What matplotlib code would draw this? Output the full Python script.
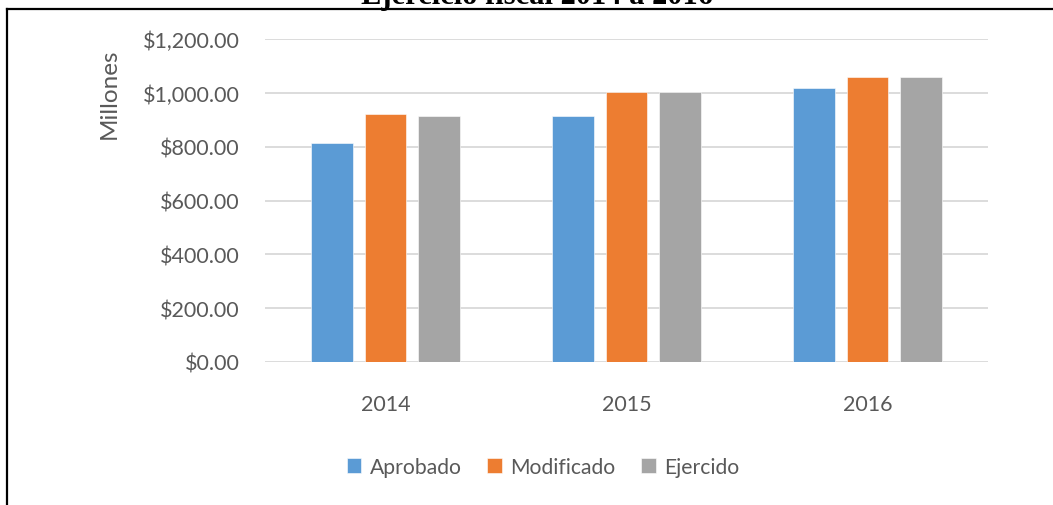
import numpy as np
import matplotlib.pyplot as plt
from matplotlib.lines import Line2D

years = ["2014", "2015", "2016"]
series = ["Aprobado", "Modificado", "Ejercido"]
aprobado = [812, 914, 1019]
modificado = [921, 1002, 1058]
ejercido = [914, 1002, 1058]
yticks = [0, 200, 400, 600, 800, 1000, 1200]

colores = ["#5B9BD5", "#ED7D31", "#A5A5A5"]
gris = "#595959"

plt.rcParams['font.family'] = ['Lato', 'DejaVu Sans']

fig = plt.figure(figsize=(10.53, 5.06), dpi=100)
ax = fig.add_axes([265/1053, 1-363/506, (988-265)/1053, (363-40)/506])

x = np.arange(len(years))
ancho = 0.174
desp = 0.222
for i, (vals, nombre) in enumerate(zip([aprobado, modificado, ejercido], series)):
    ax.bar(x + (i-1)*desp, vals, ancho, color=colores[i], label=nombre,
           edgecolor='white', linewidth=0.4, zorder=3)

ax.set_xlim(-0.5, 2.5)
ax.set_ylim(0, 1200)
ax.set_yticks(yticks)
ax.set_yticklabels(["${:,.2f}".format(v) for v in yticks])
ax.set_xticks(x)
ax.set_xticklabels(years)
ax.yaxis.grid(True, color='#D9D9D9', linewidth=1.3, zorder=0)
for s in ax.spines.values():
    s.set_visible(False)
ax.tick_params(axis='both', length=0, labelsize=15.5, labelcolor=gris)
ax.tick_params(axis='y', pad=18)
ax.tick_params(axis='x', pad=23)

fig.text(109/1053, 1-94/506, "Millones", rotation=90, ha='center', va='center',
         fontsize=17.5, color=gris)

fig.legend(loc='center', bbox_to_anchor=(543/1053, 1-468/506), ncol=3,
           frameon=False, fontsize=15.2, labelcolor=gris, handlelength=0.7,
           handleheight=0.7, handletextpad=0.4, columnspacing=1.2)

# titulo cortado arriba, igual que en el original
fig.text(537/1053, 1-4/506, "Ejercicio fiscal 2014 a 2016", ha='center',
         va='baseline', fontsize=22, fontweight='bold', family='Liberation Serif')

# marco
fig.add_artist(Line2D([7/1053, 1], [1-10/506, 1-10/506], color='black', linewidth=1.6))
fig.add_artist(Line2D([7/1053, 7/1053], [0, 1-10/506], color='black', linewidth=1.6))

fig.savefig("out.png", dpi=100)
